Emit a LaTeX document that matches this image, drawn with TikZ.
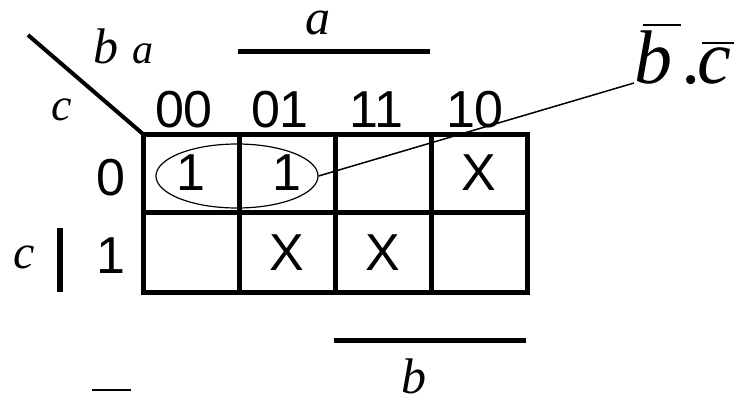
\documentclass[tikz,border=0pt]{standalone}
\usepackage{fontspec}
\setmainfont{Liberation Sans}
\newfontfamily\tms{Liberation Serif}
\usetikzlibrary{shapes.geometric}
\tikzset{
  grid/.style={line width=5pt},
  dig/.style={font=\fontsize{52}{60}\selectfont, inner sep=0pt, anchor=base},
  var/.style={font=\tms\itshape\fontsize{#1}{#1}\selectfont, inner sep=0pt, anchor=base},
  bar/.style={line width=5pt},
  thinbar/.style={line width=2pt}
}
\begin{document}
\begin{tikzpicture}[x=1pt,y=-1pt]
\useasboundingbox (0,0) rectangle (734,399);
% grid
\draw[grid] (143,134) rectangle (527,292);
\draw[grid] (239,134) -- (239,292);
\draw[grid] (335,134) -- (335,292);
\draw[grid] (431,134) -- (431,292);
\draw[grid] (143,212) -- (527,212);
% diagonal
\draw[line width=4pt] (28,35) -- (143,134);
% headers
\node[dig] (h00) at (184,127) {00};
\node[dig] (h01) at (280,127) {01};
\node[dig] (h11) at (376,127) {11};
\node[dig] (h10) at (475,127) {10};
\node[dig] (r0) at (110.5,195) {0};
\node[dig] (r1) at (110.5,273) {1};
% cells
\node[dig] (c00) at (191,190) {1};
\node[dig] (c01) at (287,190) {1};
\node[dig] (c10) at (479,190) {X};
\node[dig] (d01) at (287,270) {X};
\node[dig] (d11) at (383,270) {X};
% variable labels
\node[var=50] (lb) at (106,63) {b};
\node[var=42] (la) at (143,63) {a};
\node[var=46] (lc) at (62,120) {c};
\node[var=48] (lc2) at (24,268) {c};
\draw[line width=6pt] (60,228) -- (60,292);
\node[var=50] (ta) at (318,34) {a};
\draw[bar] (238,51) -- (430,51);
\draw[bar] (334,340) -- (526,340);
\node[var=50] (bb) at (414,393) {b};
% implicant
\node[draw, ellipse, line width=1.2pt, minimum width=162pt, minimum height=64pt, inner sep=0pt] (ell) at (237,176) {};
\node[var=76, anchor=base west] (tb) at (634,83) {b};
\node[var=76, anchor=base west] (tdot) at (683,83) {.};
\node[var=76, anchor=base west] (tc) at (697,83) {c};
\draw[thinbar] (643,25) -- (681,25);
\draw[thinbar] (702,43) -- (734,43);
\draw[line width=1.5pt] (ell.east) -- (tb.base west);
% cut-off fragment
\draw[thinbar] (92,390) -- (131,390);
\end{tikzpicture}
\end{document}
